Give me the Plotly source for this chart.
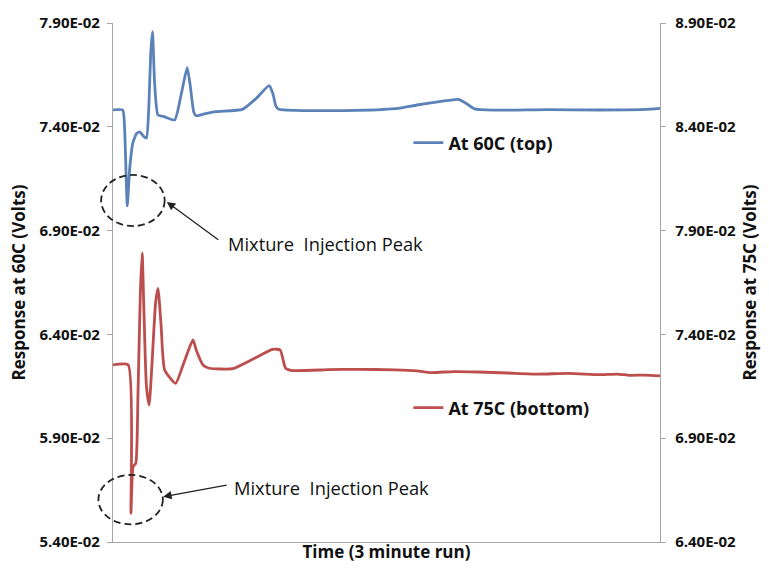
import plotly.graph_objects as go

# ---- data (time in seconds over a 3 minute run) ----
t_top = [0, 3.2, 3.8, 4.7, 5.5, 6.5, 7.75, 8.8, 10.0, 11.0, 11.8, 12.4, 13.0, 13.7, 14.8,
         17, 20.3, 22.5, 24.4, 25.4, 26.6, 27.4, 30, 33.9, 42.6, 47, 51.4, 52.6, 53.6,
         54.6, 60, 66.7, 80, 93.9, 100, 108, 113.6, 116, 119, 125, 143, 160, 175, 180]
v_top = [0.07481, 0.07481, 0.07400, 0.07019, 0.07200, 0.07320, 0.07368, 0.07376, 0.07355,
         0.07346, 0.07500, 0.07750, 0.07858, 0.07610, 0.07457,
         0.07448, 0.07433, 0.07560, 0.07685, 0.07600, 0.07470, 0.07453, 0.07462, 0.07473,
         0.07484, 0.07535, 0.07598, 0.07560, 0.07500,
         0.07484, 0.07479, 0.07478, 0.07479, 0.07489, 0.07505, 0.07522, 0.07532, 0.07515,
         0.07486, 0.07480, 0.07483, 0.07481, 0.07484, 0.07489]

t_bot = [0, 5.0, 5.9, 6.6, 7.5, 8.2, 9.0, 9.6, 10.2, 11.0, 11.9, 12.8, 14.0, 14.8, 15.8,
         17.0, 20.6, 23, 26.3, 27.5, 29.6, 31.7, 39.4, 45.9, 52.5, 55.0, 56.8, 59.0, 71.0,
         80, 92.8, 100, 104.8, 112, 120.1, 130, 139.8, 150, 160, 166, 170, 175, 180]
v_bot = [0.07253, 0.07253, 0.06538, 0.06763, 0.06779, 0.07100, 0.07600, 0.07791, 0.07500,
         0.07150, 0.07060, 0.07250, 0.07550, 0.07622, 0.07450,
         0.07229, 0.07164, 0.07250, 0.07373, 0.07320, 0.07253, 0.07237, 0.07235, 0.07280,
         0.07328, 0.07325, 0.07237, 0.07226, 0.07230,
         0.07232, 0.07229, 0.07224, 0.07216, 0.07221, 0.07219, 0.07214, 0.07209, 0.07212,
         0.07206, 0.07209, 0.07203, 0.07204, 0.07200]

x_range = [0, 180]
left_range = [0.054, 0.079]
right_range = [0.064, 0.089]
left_ticks = [0.054, 0.059, 0.064, 0.069, 0.074, 0.079]
right_ticks = [0.064, 0.069, 0.074, 0.079, 0.084, 0.089]

name_top = "At 60C (top)"
name_bot = "At 75C (bottom)"
note_text = "Mixture\u00a0\u00a0Injection Peak"

FONT = "Open Sans"
BLUE = "#5b82b8"
RED = "#bc4f4d"
GRID = "#a6a6a6"


def px(t):
    return (t - x_range[0]) / (x_range[1] - x_range[0])


def py(v, rng):
    return (v - rng[0]) / (rng[1] - rng[0])


fig = go.Figure()
fig.add_trace(go.Scatter(x=t_top, y=v_top, mode="lines", name=name_top,
                         line=dict(color=BLUE, width=2.8, shape="spline", smoothing=0.5),
                         legend="legend", yaxis="y"))
fig.add_trace(go.Scatter(x=t_bot, y=v_bot, mode="lines", name=name_bot,
                         line=dict(color=RED, width=2.8, shape="spline", smoothing=0.5),
                         legend="legend2", yaxis="y2"))

# dashed ellipses around the injection peaks (paper coords derived from the data)
min_top_i = v_top.index(min(v_top))
min_bot_i = v_bot.index(min(v_bot))
tt, vt = t_top[min_top_i], min(v_top)
tb, vb = t_bot[min_bot_i], min(v_bot)
ell_line = dict(color="#222222", width=1.8, dash="7px,4px")
fig.add_shape(type="circle", xref="paper", yref="paper",
              x0=px(tt - 8.6), x1=px(tt + 12.3),
              y0=py(vt - 0.00097, left_range), y1=py(vt + 0.00149, left_range),
              line=ell_line)
fig.add_shape(type="circle", xref="paper", yref="paper",
              x0=px(tb - 10.7), x1=px(tb + 10.5),
              y0=py(vb - 0.00053, right_range), y1=py(vb + 0.00185, right_range),
              line=ell_line)

# arrows
fig.add_annotation(xref="paper", yref="paper", x=px(tt + 13.0), y=py(vt + 0.00019, left_range),
                   ax=53, ay=39, text="", showarrow=True, arrowhead=2, arrowsize=1.3,
                   arrowwidth=1.3, arrowcolor="#222222")
fig.add_annotation(xref="paper", yref="paper", x=px(tb + 10.6), y=py(vb + 0.00080, right_range),
                   ax=65, ay=-12, text="", showarrow=True, arrowhead=2, arrowsize=1.3,
                   arrowwidth=1.3, arrowcolor="#222222")
# notes
fig.add_annotation(xref="paper", yref="paper", x=(227 - 113) / 550, y=(542 - 243) / 519,
                   xanchor="left", yanchor="middle", text=note_text, showarrow=False,
                   font=dict(family=FONT, size=18.3, color="#111111"))
fig.add_annotation(xref="paper", yref="paper", x=(233 - 113) / 550, y=(542 - 487) / 519,
                   xanchor="left", yanchor="middle", text=note_text, showarrow=False,
                   font=dict(family=FONT, size=18.3, color="#111111"))

tick_font = dict(family=FONT, size=15, color="#111111", weight="bold")
title_font = dict(family=FONT, size=17, color="#111111", weight="bold")

fig.update_layout(
    width=769, height=571,
    margin=dict(l=113, r=106, t=23, b=29),
    paper_bgcolor="white", plot_bgcolor="white",
    font=dict(family=FONT),
    xaxis=dict(range=x_range, showgrid=False, zeroline=False, showticklabels=False,
               showline=True, linecolor=GRID, linewidth=1.3, ticks="",
               title=dict(text="Time (3 minute run)", font=title_font, standoff=3)),
    yaxis=dict(range=left_range, tickvals=left_ticks,
               ticktext=[f"{v:.2E}" for v in left_ticks],
               showgrid=False, zeroline=False, showline=True, linecolor=GRID, linewidth=1.3,
               ticks="outside", ticklen=5, tickcolor=GRID, tickfont=tick_font,
               ticklabelstandoff=4,
               title=dict(text="Response at 60C (Volts)", font=title_font, standoff=9)),
    yaxis2=dict(range=right_range, tickvals=right_ticks,
                ticktext=[f"{v:.2E}" for v in right_ticks],
                overlaying="y", side="right",
                showgrid=False, zeroline=False, showline=True, linecolor=GRID, linewidth=1.3,
                ticks="outside", ticklen=5, tickcolor=GRID, tickfont=tick_font,
                ticklabelstandoff=6,
                title=dict(text="Response at 75C (Volts)", font=title_font, standoff=9)),
    legend=dict(x=(410 - 113) / 550, y=(542 - 143) / 519, xanchor="left", yanchor="middle",
                bgcolor="rgba(0,0,0,0)", borderwidth=0,
                font=dict(family=FONT, size=18, color="#111111", weight="bold")),
    legend2=dict(x=(410 - 113) / 550, y=(542 - 408) / 519, xanchor="left", yanchor="middle",
                 bgcolor="rgba(0,0,0,0)", borderwidth=0,
                 font=dict(family=FONT, size=18, color="#111111", weight="bold")),
    showlegend=True,
)

fig.write_html("out.html")
